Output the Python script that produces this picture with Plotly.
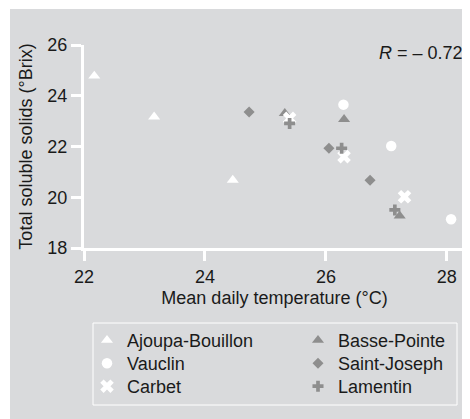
import plotly.graph_objects as go

# ---- data ----
sites = ["Ajoupa-Bouillon", "Basse-Pointe", "Vauclin", "Saint-Joseph", "Carbet", "Lamentin"]
ajoupa_x = [22.17, 23.16, 24.46]
ajoupa_y = [24.78, 23.17, 20.68]
basse_x = [25.32, 26.30, 27.22]
basse_y = [23.31, 23.07, 19.27]
vauclin_x = [26.29, 27.08, 28.07]
vauclin_y = [23.65, 22.02, 19.13]
stjoseph_x = [24.73, 26.05, 26.73]
stjoseph_y = [23.36, 21.93, 20.67]
carbet_x = [25.40, 26.30, 27.30]
carbet_y = [23.11, 21.60, 20.02]
lamentin_x = [25.40, 26.26, 27.14]
lamentin_y = [22.91, 21.93, 19.50]
x_ticks = [22, 24, 26, 28]
y_ticks = [18, 20, 22, 24, 26]
r_text = "<i>R</i> = – 0.72"

BG = "#d9dadc"
GREY = "#8e8e8e"
WHITE = "#ffffff"
FONT = "Liberation Sans, Arial, sans-serif"

# (name, x, y, symbol, colour, size)
series = [
    (sites[0], ajoupa_x, ajoupa_y, "triangle-up", WHITE, 10.5),
    (sites[1], basse_x, basse_y, "triangle-up", GREY, 10.5),
    (sites[2], vauclin_x, vauclin_y, "circle", WHITE, 10.5),
    (sites[3], stjoseph_x, stjoseph_y, "diamond", GREY, 8.5),
    (sites[4], carbet_x, carbet_y, "x", WHITE, 12),
    (sites[5], lamentin_x, lamentin_y, "cross", GREY, 9.2),
]

# figure is placed at an 8px body offset in the page
ML, MR, MT, MB = 76, 5, 37, 171
W, H = 462, 411
pw = W - ML - MR
ph = H - MT - MB

def px(xp):
    return (xp - ML) / pw

def py(yp):
    return (H - MB - yp) / ph

legend_cols = [79, 290]
legend_top0 = 314
legend_pitch = 23

fig = go.Figure()
legend_layouts = {}
for i, (name, xs, ys, sym, col, sz) in enumerate(series):
    lg = "legend" if i == 0 else f"legend{i + 1}"
    fig.add_trace(go.Scatter(
        x=xs, y=ys, mode="markers", name=name, legend=lg,
        marker=dict(symbol=sym, color=col, size=sz, line=dict(width=0)),
    ))
    row, c = divmod(i, 2)
    legend_layouts[lg] = dict(
        x=px(legend_cols[c]), y=py(legend_top0 + row * legend_pitch),
        orientation="v", yanchor="top", xanchor="left",
        bgcolor="rgba(0,0,0,0)", borderwidth=0,
        font=dict(size=18, family=FONT, color="#1a1a1a"),
    )

fig.update_layout(
    width=W, height=H,
    margin=dict(l=ML, r=MR, t=MT, b=MB, autoexpand=False),
    paper_bgcolor=BG, plot_bgcolor=BG,
    font=dict(family=FONT, size=18, color="#1a1a1a"),
    showlegend=True,
    **legend_layouts,
    xaxis=dict(
        range=[22, 28.3], tickvals=x_ticks, ticks="outside", ticklen=10,
        tickwidth=2.5, tickcolor=WHITE, showline=True, linecolor=WHITE,
        linewidth=3, showgrid=False, zeroline=False,
        title=dict(text="Mean daily temperature (°C)", standoff=6,
                   font=dict(size=18, family=FONT)),
        automargin=False,
    ),
    yaxis=dict(
        range=[18, 26], tickvals=y_ticks, ticks="outside", ticklen=10,
        tickwidth=2.5, tickcolor=WHITE, showline=True, linecolor=WHITE,
        linewidth=3, showgrid=False, zeroline=False,
        title=dict(text="Total soluble solids (°Brix)", standoff=11,
                   font=dict(size=18, family=FONT)),
        automargin=False,
    ),
    annotations=[dict(
        text=r_text, xref="paper", yref="paper", x=1.0, y=py(45),
        xanchor="right", yanchor="middle", showarrow=False,
        font=dict(size=18, family=FONT, color="#1a1a1a"),
    )],
    shapes=[
        # legend frame
        dict(type="rect", xref="paper", yref="paper", x0=px(85), x1=px(449),
             y0=py(397), y1=py(315), fillcolor="rgba(0,0,0,0)",
             line=dict(width=1, color=WHITE)),
        # thin white page strips
        dict(type="rect", xref="paper", yref="paper", x0=px(0), x1=px(2),
             y0=py(H), y1=py(0), fillcolor=WHITE, line=dict(width=0), layer="below"),
        dict(type="rect", xref="paper", yref="paper", x0=px(0), x1=px(W),
             y0=py(1), y1=py(0), fillcolor=WHITE, line=dict(width=0), layer="below"),
    ],
)

fig.write_html("out.html")
